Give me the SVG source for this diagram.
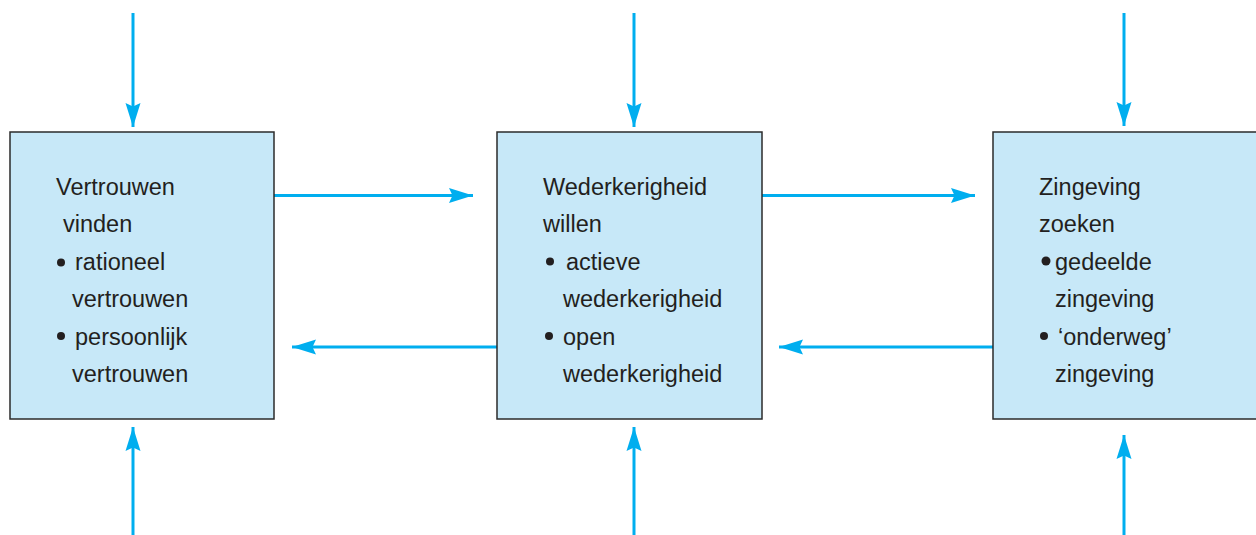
<svg xmlns="http://www.w3.org/2000/svg" width="1256" height="535" viewBox="0 0 1256 535">
  <style>
    .box { fill: #c7e8f8; stroke: #2b2b2b; stroke-width: 1.5; }
    .lbl { font-family: "Liberation Sans", Arial, sans-serif; font-size: 23.5px; fill: #231f20; }
    .dot { fill: #231f20; }
    .conn { stroke: #00aeef; stroke-width: 3; fill: none; marker-end: url(#head); }
  </style>
  <defs>
    <marker id="head" markerUnits="userSpaceOnUse" viewBox="-25 -8 25 16" refX="0" refY="0" markerWidth="25" markerHeight="16" orient="auto">
      <path d="M0,0 L-24,-7.5 L-20.5,0 L-24,7.5 Z" fill="#00aeef"/>
    </marker>
  </defs>

  <g id="connectors">
    <!-- inputs from above -->
    <line class="conn" x1="133" y1="13" x2="133" y2="127"/>
    <line class="conn" x1="634" y1="13" x2="634" y2="127"/>
    <line class="conn" x1="1124" y1="13" x2="1124" y2="126"/>
    <!-- inputs from below -->
    <line class="conn" x1="133" y1="535" x2="133" y2="427"/>
    <line class="conn" x1="634" y1="535" x2="634" y2="427"/>
    <line class="conn" x1="1124" y1="535" x2="1124" y2="435"/>
    <!-- forward flow -->
    <line class="conn" x1="274" y1="195.5" x2="473" y2="195.5"/>
    <line class="conn" x1="762" y1="195.5" x2="975" y2="195.5"/>
    <!-- backward flow -->
    <line class="conn" x1="497" y1="347" x2="292" y2="347"/>
    <line class="conn" x1="993" y1="347" x2="779" y2="347"/>
  </g>

  <g id="vertrouwen">
    <rect class="box" x="10" y="132" width="264" height="287"/>
    <text class="lbl" x="56" y="195">Vertrouwen</text>
    <text class="lbl" x="63" y="232">vinden</text>
    <circle class="dot" cx="61" cy="262.5" r="4"/>
    <text class="lbl" x="75" y="270">rationeel</text>
    <text class="lbl" x="72" y="307">vertrouwen</text>
    <circle class="dot" cx="61" cy="336" r="4"/>
    <text class="lbl" x="75" y="345">persoonlijk</text>
    <text class="lbl" x="72" y="382">vertrouwen</text>
  </g>

  <g id="wederkerigheid">
    <rect class="box" x="497" y="132" width="265" height="287"/>
    <text class="lbl" x="543" y="195">Wederkerigheid</text>
    <text class="lbl" x="543" y="232">willen</text>
    <circle class="dot" cx="550" cy="261.5" r="4"/>
    <text class="lbl" x="566" y="270">actieve</text>
    <text class="lbl" x="563" y="307">wederkerigheid</text>
    <circle class="dot" cx="549" cy="336" r="4"/>
    <text class="lbl" x="563" y="345">open</text>
    <text class="lbl" x="563" y="382">wederkerigheid</text>
  </g>

  <g id="zingeving">
    <rect class="box" x="993" y="132" width="270" height="287"/>
    <text class="lbl" x="1039" y="195">Zingeving</text>
    <text class="lbl" x="1039" y="232">zoeken</text>
    <circle class="dot" cx="1046" cy="261" r="4.5"/>
    <text class="lbl" x="1055" y="270">gedeelde</text>
    <text class="lbl" x="1055" y="307">zingeving</text>
    <circle class="dot" cx="1044" cy="336" r="4"/>
    <text class="lbl" x="1058" y="345">‘onderweg’</text>
    <text class="lbl" x="1055" y="382">zingeving</text>
  </g>
</svg>
